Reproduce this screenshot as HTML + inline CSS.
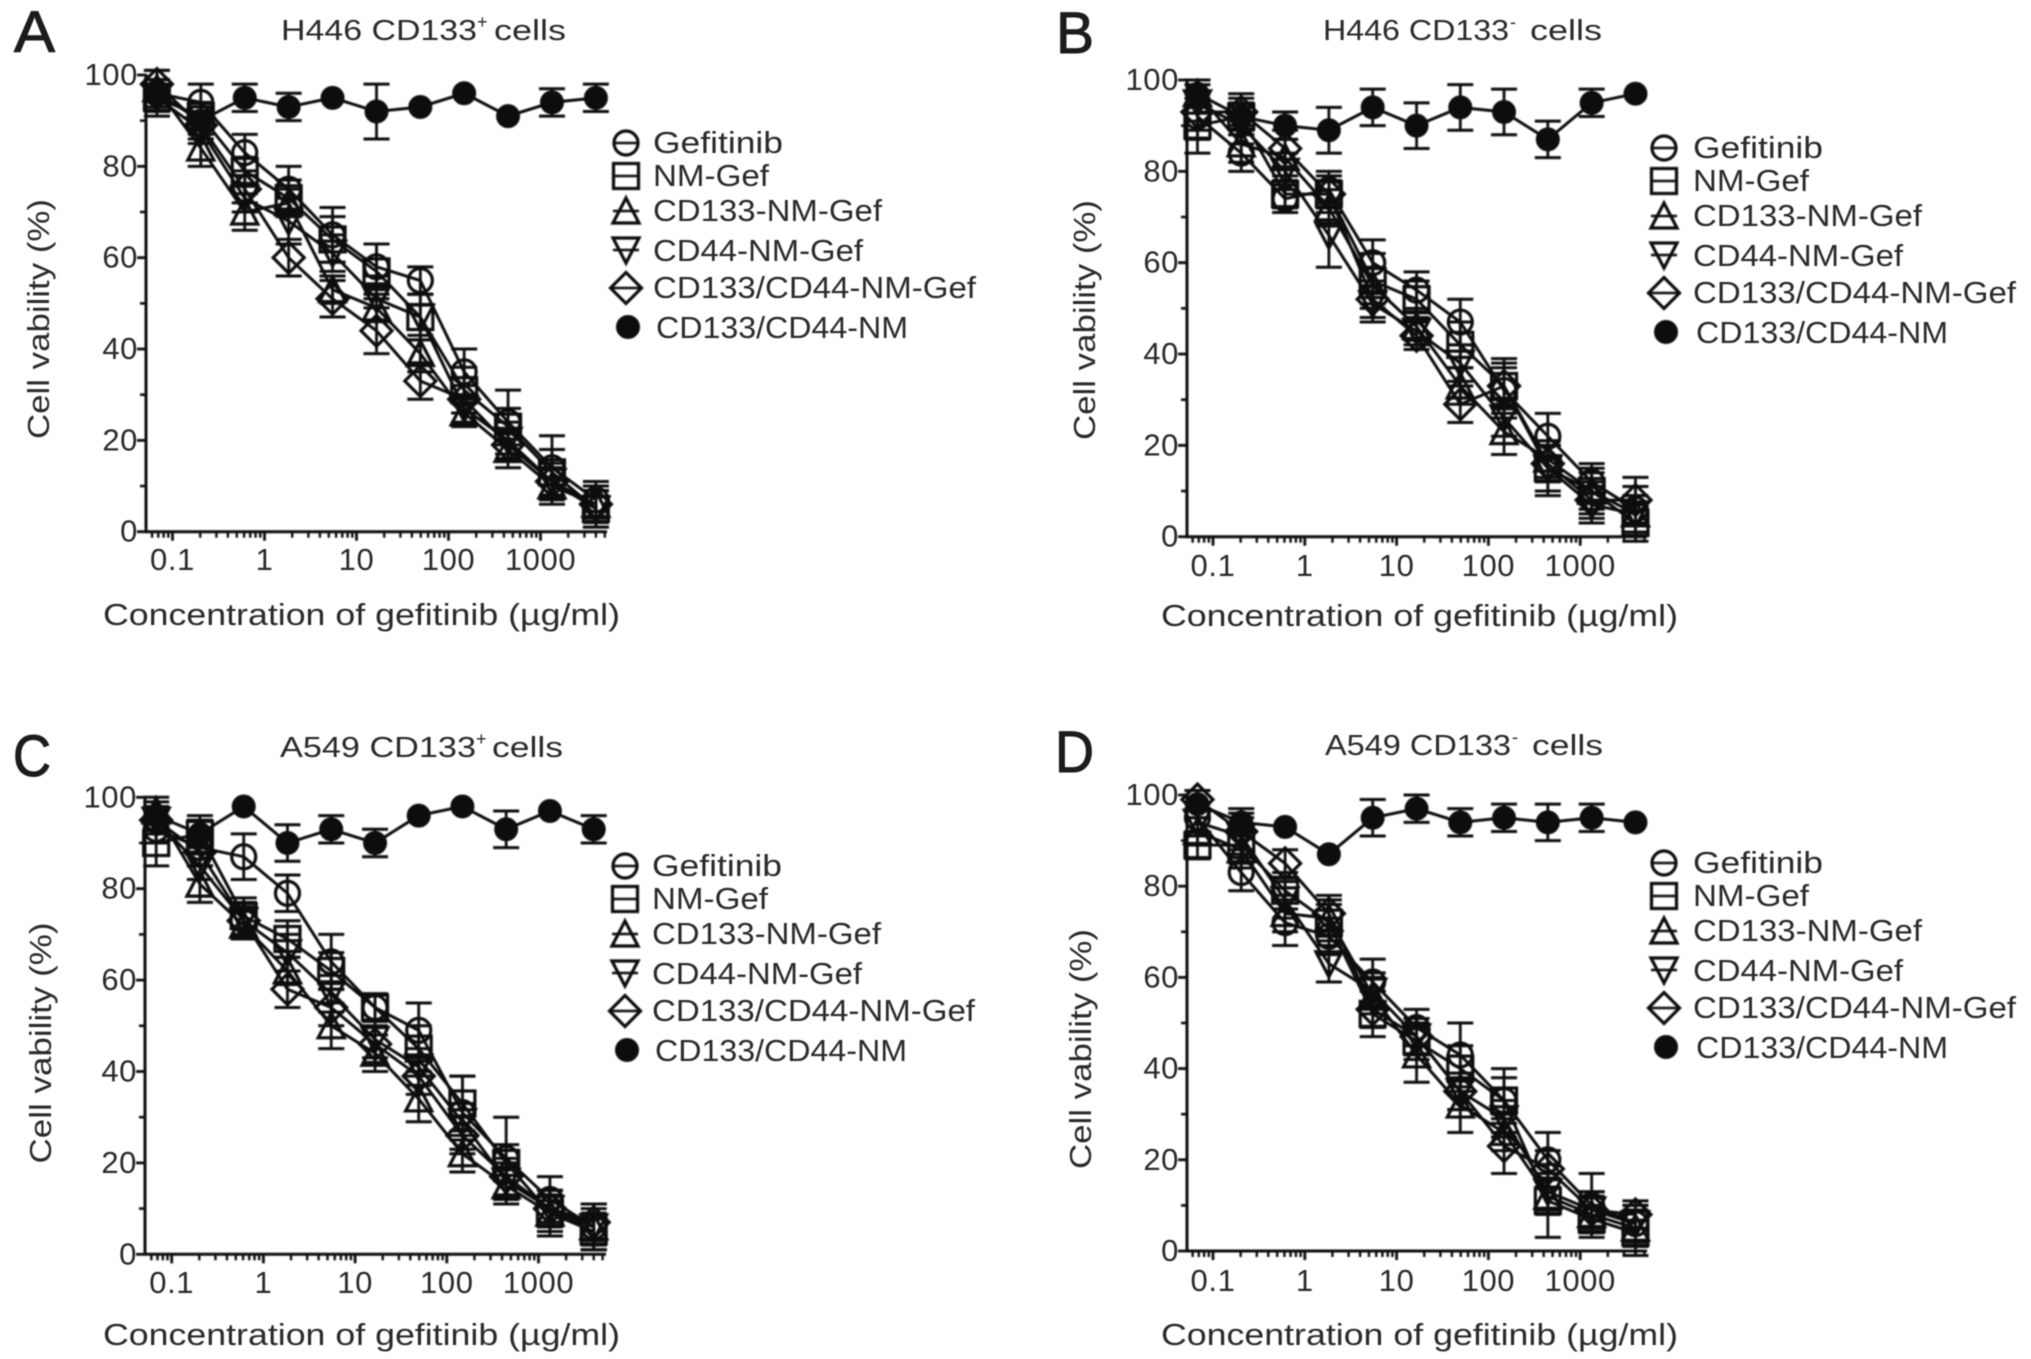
<!DOCTYPE html>
<html lang="en">
<head>
<meta charset="utf-8">
<title>Cell viability versus gefitinib concentration</title>
<style>
html,body{margin:0;padding:0;background:#fff;}
svg{display:block;}
text{font-family:"Liberation Sans",Arial,sans-serif;fill:#2a2a2a;}
.letter{font-size:58px;fill:#1a1a1a;}
.title{font-size:29px;}
.sup{font-size:18px;}
.axis-title{font-size:31px;}
.legend-text{font-size:31px;}
.tick{font-size:31px;letter-spacing:0.6px;}
</style>
</head>
<body>
<svg id="figure" width="2031" height="1359" viewBox="0 0 2031 1359" xmlns="http://www.w3.org/2000/svg">
<defs>
<filter id="soft" x="-5%" y="-5%" width="110%" height="110%"><feGaussianBlur stdDeviation="0.9"/></filter>
<filter id="softText" x="-5%" y="-5%" width="110%" height="110%"><feGaussianBlur stdDeviation="0.65"/></filter>
</defs>
<rect x="0" y="0" width="2031" height="1359" fill="#ffffff"/>

<g filter="url(#softText)">
  <text class="letter" x="14" y="52" textLength="41" lengthAdjust="spacingAndGlyphs" stroke="#1a1a1a" stroke-width="1">A</text>
  <text class="letter" x="1056" y="53" textLength="38" lengthAdjust="spacingAndGlyphs" stroke="#1a1a1a" stroke-width="1">B</text>
  <text class="letter" x="13" y="776" textLength="38" lengthAdjust="spacingAndGlyphs" stroke="#1a1a1a" stroke-width="1">C</text>
  <text class="letter" x="1055" y="772" textLength="39" lengthAdjust="spacingAndGlyphs" stroke="#1a1a1a" stroke-width="1">D</text>

  <text class="title" x="281" y="40" textLength="196" lengthAdjust="spacingAndGlyphs">H446 CD133</text>
  <text class="sup" x="477" y="28">+</text>
  <text class="title" x="494" y="40" textLength="72" lengthAdjust="spacingAndGlyphs">cells</text>

  <text class="title" x="1323" y="40" textLength="186" lengthAdjust="spacingAndGlyphs">H446 CD133</text>
  <text class="sup" x="1510" y="28">-</text>
  <text class="title" x="1530" y="40" textLength="72" lengthAdjust="spacingAndGlyphs">cells</text>

  <text class="title" x="280" y="757" textLength="196" lengthAdjust="spacingAndGlyphs">A549 CD133</text>
  <text class="sup" x="476" y="745">+</text>
  <text class="title" x="492" y="757" textLength="71" lengthAdjust="spacingAndGlyphs">cells</text>

  <text class="title" x="1325" y="755" textLength="186" lengthAdjust="spacingAndGlyphs">A549 CD133</text>
  <text class="sup" x="1512" y="743">-</text>
  <text class="title" x="1532" y="755" textLength="71" lengthAdjust="spacingAndGlyphs">cells</text>

  <text class="axis-title" x="49" y="319" text-anchor="middle" textLength="240" lengthAdjust="spacingAndGlyphs" transform="rotate(-90 49 319)">Cell vability (%)</text>
  <text class="axis-title" x="1095" y="320" text-anchor="middle" textLength="240" lengthAdjust="spacingAndGlyphs" transform="rotate(-90 1095 320)">Cell vability (%)</text>
  <text class="axis-title" x="51" y="1043" text-anchor="middle" textLength="241" lengthAdjust="spacingAndGlyphs" transform="rotate(-90 51 1043)">Cell vability (%)</text>
  <text class="axis-title" x="1091" y="1049" text-anchor="middle" textLength="240" lengthAdjust="spacingAndGlyphs" transform="rotate(-90 1091 1049)">Cell vability (%)</text>

  <text class="axis-title" x="103" y="625" textLength="517" lengthAdjust="spacingAndGlyphs">Concentration of gefitinib (µg/ml)</text>
  <text class="axis-title" x="1161" y="626" textLength="517" lengthAdjust="spacingAndGlyphs">Concentration of gefitinib (µg/ml)</text>
  <text class="axis-title" x="103" y="1345" textLength="517" lengthAdjust="spacingAndGlyphs">Concentration of gefitinib (µg/ml)</text>
  <text class="axis-title" x="1161" y="1345" textLength="517" lengthAdjust="spacingAndGlyphs">Concentration of gefitinib (µg/ml)</text>

  <g>
    <text class="legend-text" x="653" y="153" textLength="130" lengthAdjust="spacingAndGlyphs">Gefitinib</text>
    <text class="legend-text" x="653" y="186" textLength="116" lengthAdjust="spacingAndGlyphs">NM-Gef</text>
    <text class="legend-text" x="653" y="221" textLength="229" lengthAdjust="spacingAndGlyphs">CD133-NM-Gef</text>
    <text class="legend-text" x="653" y="261" textLength="210" lengthAdjust="spacingAndGlyphs">CD44-NM-Gef</text>
    <text class="legend-text" x="653" y="298" textLength="323" lengthAdjust="spacingAndGlyphs">CD133/CD44-NM-Gef</text>
    <text class="legend-text" x="656" y="338" textLength="252" lengthAdjust="spacingAndGlyphs">CD133/CD44-NM</text>
  </g>
  <g transform="translate(1040,5)">
    <text class="legend-text" x="653" y="153" textLength="130" lengthAdjust="spacingAndGlyphs">Gefitinib</text>
    <text class="legend-text" x="653" y="186" textLength="116" lengthAdjust="spacingAndGlyphs">NM-Gef</text>
    <text class="legend-text" x="653" y="221" textLength="229" lengthAdjust="spacingAndGlyphs">CD133-NM-Gef</text>
    <text class="legend-text" x="653" y="261" textLength="210" lengthAdjust="spacingAndGlyphs">CD44-NM-Gef</text>
    <text class="legend-text" x="653" y="298" textLength="323" lengthAdjust="spacingAndGlyphs">CD133/CD44-NM-Gef</text>
    <text class="legend-text" x="656" y="338" textLength="252" lengthAdjust="spacingAndGlyphs">CD133/CD44-NM</text>
  </g>
  <g transform="translate(-1,723)">
    <text class="legend-text" x="653" y="153" textLength="130" lengthAdjust="spacingAndGlyphs">Gefitinib</text>
    <text class="legend-text" x="653" y="186" textLength="116" lengthAdjust="spacingAndGlyphs">NM-Gef</text>
    <text class="legend-text" x="653" y="221" textLength="229" lengthAdjust="spacingAndGlyphs">CD133-NM-Gef</text>
    <text class="legend-text" x="653" y="261" textLength="210" lengthAdjust="spacingAndGlyphs">CD44-NM-Gef</text>
    <text class="legend-text" x="653" y="298" textLength="323" lengthAdjust="spacingAndGlyphs">CD133/CD44-NM-Gef</text>
    <text class="legend-text" x="656" y="338" textLength="252" lengthAdjust="spacingAndGlyphs">CD133/CD44-NM</text>
  </g>
  <g transform="translate(1040,720)">
    <text class="legend-text" x="653" y="153" textLength="130" lengthAdjust="spacingAndGlyphs">Gefitinib</text>
    <text class="legend-text" x="653" y="186" textLength="116" lengthAdjust="spacingAndGlyphs">NM-Gef</text>
    <text class="legend-text" x="653" y="221" textLength="229" lengthAdjust="spacingAndGlyphs">CD133-NM-Gef</text>
    <text class="legend-text" x="653" y="261" textLength="210" lengthAdjust="spacingAndGlyphs">CD44-NM-Gef</text>
    <text class="legend-text" x="653" y="298" textLength="323" lengthAdjust="spacingAndGlyphs">CD133/CD44-NM-Gef</text>
    <text class="legend-text" x="656" y="338" textLength="252" lengthAdjust="spacingAndGlyphs">CD133/CD44-NM</text>
  </g>
</g>
<g id="tickLabels" filter="url(#softText)"></g>
<g id="plots" filter="url(#soft)"></g>
</svg>

<script>
// Shared categories and tick labels
const concentrations = [0.0677, 0.203, 0.61, 1.83, 5.49, 16.5, 49.4, 148, 444, 1333, 4000];
const xTickValues = [0.1, 1, 10, 100, 1000];
const xTickLabels = ['0.1', '1', '10', '100', '1000'];
const yTickValues = [0, 20, 40, 60, 80, 100];
const yMinorValues = [10, 30, 50, 70, 90];

// Panel A: H446 CD133+
const aGefitinib = [96, 94, 83, 75, 65, 58, 55, 35, 24, 14, 7];
const aGefitinibErr = [3, 4, 4, 5, 6, 5, 3, 5, 7, 7, 4];
const aNmGef = [95, 91, 79, 73, 64, 57, 47, 31, 23, 13, 5];
const aNmGefErr = [4, 3, 3, 4, 5, 6, 5, 5, 4, 5, 4];
const aCd133 = [97, 84, 70, 72, 53, 49, 39, 26, 18, 10, 6];
const aCd133Err = [4, 4, 4, 3, 3, 3, 4, 3, 4, 4, 4];
const aCd44 = [95, 88, 73, 68, 61, 51, 47, 27, 20, 11, 5];
const aCd44Err = [3, 3, 3, 5, 4, 5, 5, 3, 4, 4, 4];
const aDual = [98, 89, 75, 60, 51, 44, 33, 29, 19, 11, 6];
const aDualErr = [3, 3, 3, 4, 4, 5, 4, 3, 3, 3, 3];
const aCarrier = [96, 90, 95, 93, 95, 92, 93, 96, 91, 94, 95];
const aCarrierErr = [3, 3, 3, 3, 0, 6, 0, 0, 0, 3, 3];

// Panel B: H446 CD133-
const bGefitinib = [92, 84, 74, 76, 60, 54, 47, 32, 22, 12, 6];
const bGefitinibErr = [5, 4, 3, 4, 5, 4, 5, 6, 5, 4, 5];
const bNmGef = [90, 92, 75, 75, 56, 52, 42, 33, 15, 10, 3];
const bNmGefErr = [6, 4, 3, 4, 6, 4, 5, 6, 6, 5, 4];
const bCd133 = [97, 86, 83, 72, 55, 46, 33, 23, 17, 10, 5];
const bCd133Err = [3, 4, 4, 4, 4, 3, 4, 5, 4, 4, 4];
const bCd44 = [95, 90, 80, 66, 51, 45, 38, 26, 15, 7, 5];
const bCd44Err = [4, 4, 4, 7, 4, 3, 4, 4, 5, 4, 4];
const bDual = [93, 93, 85, 75, 52, 44, 29, 33, 16, 8, 8];
const bDualErr = [4, 4, 4, 3, 4, 3, 4, 4, 4, 4, 5];
const bCarrier = [97, 92, 90, 89, 94, 90, 94, 93, 87, 95, 97];
const bCarrierErr = [3, 3, 3, 5, 4, 5, 5, 5, 4, 3, 0];

// Panel C: A549 CD133+
const cGefitinib = [93, 89, 87, 79, 64, 54, 49, 31, 21, 12, 6];
const cGefitinibErr = [3, 4, 5, 4, 6, 3, 6, 8, 9, 5, 5];
const cNmGef = [90, 92, 74, 69, 62, 54, 45, 33, 20, 9, 5];
const cNmGefErr = [5, 4, 4, 4, 4, 3, 5, 6, 4, 4, 4];
const cCd133 = [97, 81, 72, 62, 50, 44, 34, 22, 15, 9, 6];
const cCd133Err = [3, 4, 3, 3, 5, 4, 5, 4, 4, 5, 5];
const cCd44 = [95, 85, 73, 66, 57, 47, 41, 29, 16, 10, 6];
const cCd44Err = [3, 3, 4, 4, 4, 4, 4, 4, 4, 4, 4];
const cDual = [95, 88, 73, 58, 54, 46, 39, 26, 17, 10, 7];
const cDualErr = [3, 3, 3, 4, 4, 4, 4, 4, 4, 4, 4];
const cCarrier = [96, 92, 98, 90, 93, 90, 96, 98, 93, 97, 93];
const cCarrierErr = [3, 3, 0, 4, 3, 3, 0, 0, 4, 0, 3];

// Panel D: A549 CD133-
const dGefitinib = [95, 83, 72, 69, 59, 49, 43, 33, 20, 10, 6];
const dGefitinibErr = [3, 4, 5, 4, 5, 4, 7, 7, 6, 7, 4];
const dNmGef = [89, 89, 79, 72, 52, 46, 40, 33, 11, 7, 4];
const dNmGefErr = [3, 4, 4, 4, 5, 4, 5, 5, 8, 3, 5];
const dCd133 = [92, 88, 74, 73, 56, 43, 32, 26, 12, 8, 5];
const dCd133Err = [3, 4, 4, 4, 4, 6, 6, 4, 4, 4, 4];
const dCd44 = [94, 91, 77, 63, 57, 47, 35, 29, 13, 9, 6];
const dCd44Err = [3, 4, 4, 4, 4, 4, 4, 4, 4, 4, 4];
const dDual = [99, 92, 85, 74, 53, 47, 35, 23, 18, 9, 8];
const dDualErr = [2, 4, 3, 4, 4, 4, 4, 6, 4, 4, 3];
const dCarrier = [98, 94, 93, 87, 95, 97, 94, 95, 94, 95, 94];
const dCarrierErr = [3, 3, 0, 0, 4, 3, 3, 3, 4, 3, 0];

const SVGNS = 'http://www.w3.org/2000/svg';
const INK = '#0d0d0d';
const plotsRoot = document.getElementById('plots');
const tickRoot = document.getElementById('tickLabels');

function make(tag, attrs, parent) {
  const el = document.createElementNS(SVGNS, tag);
  for (const key in attrs) el.setAttribute(key, attrs[key]);
  parent.appendChild(el);
  return el;
}

function drawLine(parent, x1, y1, x2, y2, width, name) {
  const el = make('line', {x1: x1, y1: y1, x2: x2, y2: y2, stroke: INK, 'stroke-width': width}, parent);
  
  
  return el;
}

function drawMarker(parent, shape, cx, cy, name) {
  let el;
  const common = {fill: 'none', stroke: INK, 'stroke-width': 3.2};
  if (shape === 'circle') {
    el = make('circle', Object.assign({cx: cx, cy: cy, r: 12}, common), parent);
  } else if (shape === 'square') {
    el = make('rect', Object.assign({x: cx - 12.5, y: cy - 12.5, width: 25, height: 25}, common), parent);
  } else if (shape === 'up') {
    el = make('polygon', Object.assign({points: [cx, cy - 13, cx + 13, cy + 12, cx - 13, cy + 12].join(' ')}, common), parent);
  } else if (shape === 'down') {
    el = make('polygon', Object.assign({points: [cx, cy + 13, cx + 13, cy - 12, cx - 13, cy - 12].join(' ')}, common), parent);
  } else if (shape === 'diamond') {
    el = make('polygon', Object.assign({points: [cx, cy - 15.5, cx + 15.5, cy, cx, cy + 15.5, cx - 15.5, cy].join(' ')}, common), parent);
  } else {
    el = make('circle', {cx: cx, cy: cy, r: 11.5, fill: INK, stroke: INK, 'stroke-width': 1}, parent);
  }
  
  
  return el;
}

function drawTickLabel(x, y, anchor, label, name) {
  const el = make('text', {x: x, y: y, 'text-anchor': anchor, 'class': 'tick'}, tickRoot);
  el.textContent = label;
  
  
  return el;
}

function drawPanel(cfg) {
  const group = make('g', {}, plotsRoot);
  
  

  const xScale = function (v) { return cfg.xAtTenth + (Math.log10(v) + 1) * cfg.decade; };
  const yScale = function (v) { return cfg.yZero + (cfg.yHundred - cfg.yZero) * v / 100; };

  // Axes
  drawLine(group, cfg.axisX, cfg.yHundred - 1, cfg.axisX, cfg.yZero + 1.2, 3, 'y-axis-line');
  drawLine(group, cfg.axisX - 1.2, cfg.yZero, cfg.xEnd, cfg.yZero, 3, 'x-axis-line');

  yTickValues.forEach(function (v) {
    drawLine(group, cfg.axisX - 9, yScale(v), cfg.axisX, yScale(v), 2.8, 'y-major-tick');
    drawTickLabel(cfg.axisX - 8, yScale(v) + 10, 'end', String(v), 'y-tick-label');
  });
  yMinorValues.forEach(function (v) {
    drawLine(group, cfg.axisX - 6, yScale(v), cfg.axisX, yScale(v), 2.6, 'y-minor-tick');
  });

  xTickValues.forEach(function (v, i) {
    drawLine(group, xScale(v), cfg.yZero, xScale(v), cfg.yZero + 9, 2.8, 'x-major-tick');
    drawTickLabel(xScale(v), cfg.xLabelY, 'middle', xTickLabels[i], 'x-tick-label');
  });
  for (let exp = -2; exp <= 3; exp++) {
    for (let m = 2; m <= 9; m++) {
      const value = m * Math.pow(10, exp);
      const px = xScale(value);
      if (px > cfg.axisX + 1 && px < cfg.xEnd) {
        drawLine(group, px, cfg.yZero, px, cfg.yZero + 6, 2.4, 'x-minor-tick');
      }
    }
  }

  // Series
  cfg.series.forEach(function (s) {
    const seriesGroup = make('g', {}, group);
    
    

    const points = s.values.map(function (v, i) { return xScale(concentrations[i]) + ',' + yScale(v); }).join(' ');
    const path = make('polyline', {points: points, fill: 'none', stroke: INK, 'stroke-width': 3}, seriesGroup);
    
    

    s.values.forEach(function (v, i) {
      const px = xScale(concentrations[i]);
      const err = s.errors[i];
      if (err > 0) {
        drawLine(seriesGroup, px, yScale(v + err), px, yScale(v - err), 2.8, 'error-bar');
        drawLine(seriesGroup, px - 13, yScale(v + err), px + 13, yScale(v + err), 3, 'error-cap-upper');
        drawLine(seriesGroup, px - 13, yScale(v - err), px + 13, yScale(v - err), 3, 'error-cap-lower');
      }
      drawMarker(seriesGroup, s.shape, px, yScale(v), 'data-point');
    });
  });

  // Legend markers
  const legendRows = [
    {shape: 'circle', x: 626, y: 143},
    {shape: 'square', x: 626, y: 176},
    {shape: 'up', x: 626, y: 211},
    {shape: 'down', x: 626, y: 250},
    {shape: 'diamond', x: 626, y: 288},
    {shape: 'filled', x: 628, y: 327}
  ];
  const legend = make('g', {transform: 'translate(' + cfg.legendDx + ',' + cfg.legendDy + ')'}, group);
  
  
  legendRows.forEach(function (row) {
    drawMarker(legend, row.shape, row.x, row.y, 'legend-marker');
    if (row.shape !== 'filled') {
      const half = row.shape === 'diamond' ? 15 : 13;
      drawLine(legend, row.x - half, row.y, row.x + half, row.y, 2.6, 'legend-marker-line');
    }
  });
}

function seriesSet(g, ge, n, ne, u, ue, d, de, m, me, k, ke) {
  return [
    {name: 'gefitinib', shape: 'circle', values: g, errors: ge},
    {name: 'nm-gef', shape: 'square', values: n, errors: ne},
    {name: 'cd133-nm-gef', shape: 'up', values: u, errors: ue},
    {name: 'cd44-nm-gef', shape: 'down', values: d, errors: de},
    {name: 'cd133-cd44-nm-gef', shape: 'diamond', values: m, errors: me},
    {name: 'cd133-cd44-nm', shape: 'filled', values: k, errors: ke}
  ];
}

drawPanel({id: 'a', axisX: 146, xEnd: 607, xAtTenth: 172.5, decade: 92, yZero: 531.7, yHundred: 75, xLabelY: 570, legendDx: 0, legendDy: 0,
  series: seriesSet(aGefitinib, aGefitinibErr, aNmGef, aNmGefErr, aCd133, aCd133Err, aCd44, aCd44Err, aDual, aDualErr, aCarrier, aCarrierErr)});
drawPanel({id: 'b', axisX: 1187, xEnd: 1647, xAtTenth: 1213, decade: 91.8, yZero: 536.7, yHundred: 80, xLabelY: 576, legendDx: 1038, legendDy: 5,
  series: seriesSet(bGefitinib, bGefitinibErr, bNmGef, bNmGefErr, bCd133, bCd133Err, bCd44, bCd44Err, bDual, bDualErr, bCarrier, bCarrierErr)});
drawPanel({id: 'c', axisX: 145, xEnd: 606, xAtTenth: 171.7, decade: 91.7, yZero: 1254.3, yHundred: 797.3, xLabelY: 1293, legendDx: -1, legendDy: 723,
  series: seriesSet(cGefitinib, cGefitinibErr, cNmGef, cNmGefErr, cCd133, cCd133Err, cCd44, cCd44Err, cDual, cDualErr, cCarrier, cCarrierErr)});
drawPanel({id: 'd', axisX: 1187, xEnd: 1647, xAtTenth: 1213, decade: 91.8, yZero: 1251, yHundred: 795, xLabelY: 1291, legendDx: 1038, legendDy: 720,
  series: seriesSet(dGefitinib, dGefitinibErr, dNmGef, dNmGefErr, dCd133, dCd133Err, dCd44, dCd44Err, dDual, dDualErr, dCarrier, dCarrierErr)});
</script>
</body>
</html>
